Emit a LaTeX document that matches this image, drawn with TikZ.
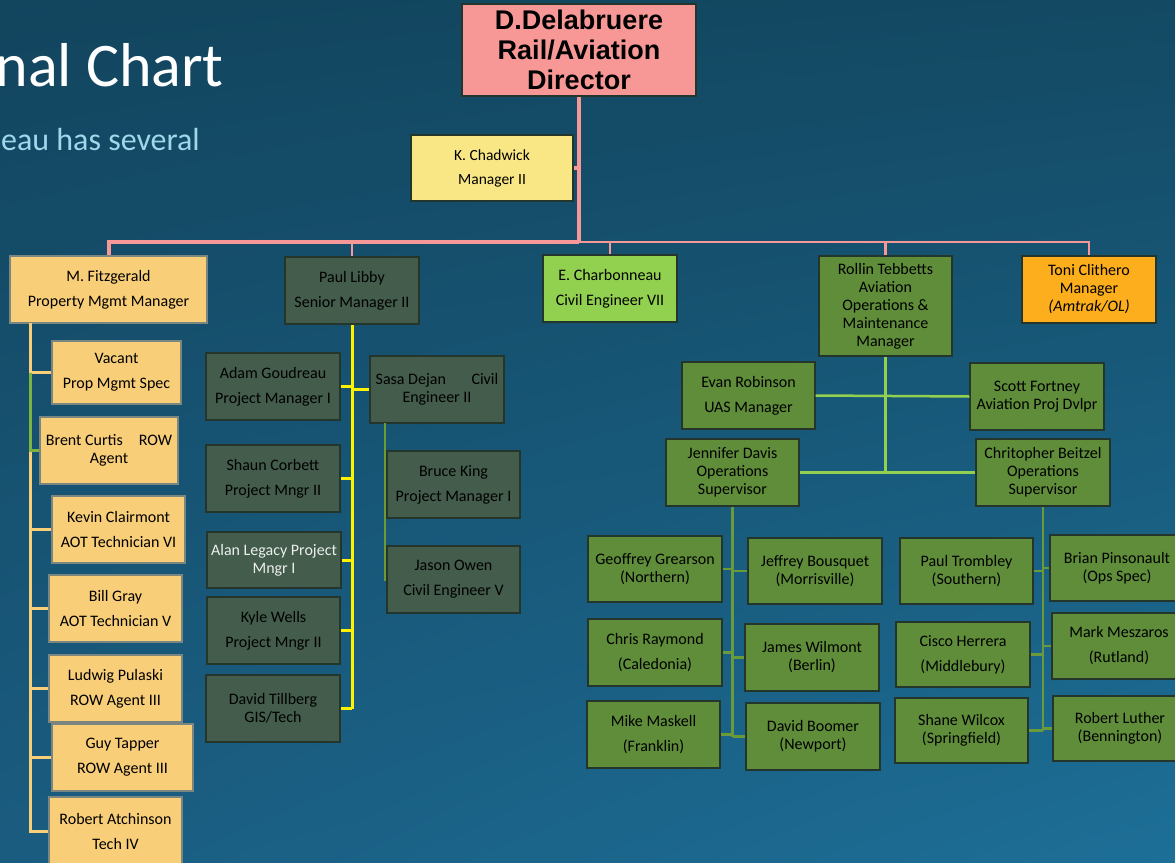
\documentclass[tikz,border=0pt]{standalone}
\usepackage{fontspec}
\setmainfont{Carlito}
\newfontfamily\headfont{Liberation Sans}
\usepackage{xcolor}
\usepackage{tikz}
\usetikzlibrary{positioning, shadings}

\definecolor{bgtop}{HTML}{12455E}
\definecolor{bgtopr}{HTML}{134963}
\definecolor{bgbotl}{HTML}{1A5C80}
\definecolor{bgbotr}{HTML}{1D6F98}
\definecolor{subtitle}{HTML}{9ED8EA}
\definecolor{boxline}{HTML}{24352B}
\definecolor{dirfill}{HTML}{F79896}
\definecolor{chadfill}{HTML}{F8E784}
\definecolor{fitzfill}{HTML}{F9CE79}
\definecolor{libbyfill}{HTML}{435C4B}
\definecolor{charbfill}{HTML}{92D050}
\definecolor{avifill}{HTML}{5F8D3A}
\definecolor{clithfill}{HTML}{FDAE1C}
\definecolor{pinkline}{HTML}{F79898}
\definecolor{fitzgreen}{HTML}{7DB441}
\definecolor{sasagreen}{HTML}{6E9A35}
\definecolor{avilight}{HTML}{92D050}
\definecolor{avidark}{HTML}{6B9A3B}

\tikzset{
  box/.style={rectangle, draw=boxline, line width=1.2pt, align=center,
    inner sep=2pt, text=black, font=\fontsize{16}{18}\selectfont},
  size/.style 2 args={minimum width=#1pt, minimum height=#2pt},
  fitz/.style={box, fill=fitzfill, draw=boxline!60},
  libby/.style={box, fill=libbyfill, text=black},
  avi/.style={box, fill=avifill},
  pinkthick/.style={draw=pinkline, line width=4pt},
  pinkthin/.style={draw=pinkline, line width=2.5pt},
  fitzbar/.style={draw=fitzfill, line width=3pt},
  fitzbit/.style={draw=fitzgreen, line width=3pt},
  libbar/.style={draw=yellow, line width=3pt},
  sasabar/.style={draw=sasagreen, line width=2.5pt},
  avibar/.style={draw=avilight, line width=2.5pt},
  subbar/.style={draw=avidark, line width=2.5pt}
}

\begin{document}
\begin{tikzpicture}[x=1pt, y=-1pt]
  \useasboundingbox (0,0) rectangle (1175,862);
  \shade[upper left=bgtop, upper right=bgtopr, lower left=bgbotl, lower right=bgbotr]
    (0,0) rectangle (1175,862);
  \clip (0,0) rectangle (1175,862);

  % slide title, cut off at the left
  \node[anchor=base east, text=white, font=\fontsize{62}{64}\selectfont, inner sep=0pt] (title) at (224,86) {nal Chart};
  \node[anchor=base east, text=subtitle, font=\fontsize{32}{34}\selectfont, inner sep=0pt] (subtitle) at (200,150) {eau has several};

  % top
  \node[box, size={234}{92}, fill=dirfill, font=\headfont\bfseries\fontsize{27}{30}\selectfont] (dir) at (579,50) {D.Delabruere\\Rail/Aviation\\Director};
  \node[box, size={162}{66}, fill=chadfill, font=\fontsize{15.5}{18}\selectfont] (chad) at (492,168) {K. Chadwick\\[6pt]Manager II};

  % second row
  \node[fitz, size={197}{67}] (fitz) at (108.5,289.5) {M. Fitzgerald\\[7pt]Property Mgmt Manager};
  \node[libby, size={134}{67}] (libby) at (352,290.5) {Paul Libby\\[7pt]Senior Manager II};
  \node[box, size={134}{67}, fill=charbfill] (charb) at (610,288.5) {E. Charbonneau\\[7pt]Civil Engineer VII};
  \node[avi, size={133}{100}] (tebb) at (885.5,306) {Rollin Tebbetts\\Aviation\\Operations \&\\Maintenance\\Manager};
  \node[box, size={134}{67}, fill=clithfill] (clith) at (1089,289.5) {Toni Clithero\\Manager\\\textit{(Amtrak/OL)}};

  \coordinate (bus) at (579,242);
  \draw[pinkthick] (dir.south) -- (bus);
  \draw[pinkthick] (chad.east) -- (chad.east -| dir.south);
  \draw[pinkthick] (bus) -| (fitz.north);
  \draw[pinkthin] (libby.north) -- (libby.north |- bus);
  \draw[pinkthin] (bus) -| (clith.north);
  \draw[pinkthin] (charb.north) -- (charb.north |- bus);
  \draw[pinkthin] (tebb.north) -- (tebb.north |- bus);

  % property management
  \node[fitz, size={129}{63}] (vacant) at (116.5,372.5) {Vacant\\[7pt]Prop Mgmt Spec};
  \node[fitz, size={138}{67}] (curtis) at (109,450.5) {Brent Curtis\hspace{1em}ROW\\Agent};
  \node[fitz, size={133}{67}] (clairmont) at (118.5,529.5) {Kevin Clairmont\\[7pt]AOT Technician VI};
  \node[fitz, size={133}{67}] (gray) at (115.5,608.5) {Bill Gray\\[7pt]AOT Technician V};
  \node[fitz, size={133}{67}] (pulaski) at (115.5,688.5) {Ludwig Pulaski\\[7pt]ROW Agent III};
  \node[fitz, size={141}{67}] (tapper) at (122.5,757.5) {Guy Tapper\\[7pt]ROW Agent III};
  \node[fitz, size={133}{68}] (atchinson) at (115.5,831) {Robert Atchinson\\[7pt]Tech IV};

  \coordinate (fitzx) at (30,323);
  \draw[fitzbar] (fitzx) |- (atchinson.west);
  \foreach \n in {vacant, clairmont, gray, pulaski, tapper}
    \draw[fitzbar] (\n.west) -- (\n.west -| fitzx);
  \draw[fitzbit] (vacant.west -| fitzx) -- (curtis.west -| fitzx) -- (curtis.west);

  % senior manager group
  \node[libby, size={134}{67}] (goudreau) at (273,386.5) {Adam Goudreau\\[7pt]Project Manager I};
  \node[libby, size={134}{67}] (corbett) at (273,478.5) {Shaun Corbett\\[7pt]Project Mngr II};
  \node[libby, size={134}{56}, text=white!90!libbyfill] (legacy) at (274,560) {Alan Legacy Project\\Mngr I};
  \node[libby, size={133}{67}] (wells) at (273.5,630.5) {Kyle Wells\\[7pt]Project Mngr II};
  \node[libby, size={134}{67}] (tillberg) at (273,708.5) {David Tillberg\\GIS/Tech};
  \node[libby, size={134}{67}] (dejan) at (437,389.5) {Sasa Dejan\hspace{1.6em}Civil\\Engineer II};
  \node[libby, size={133}{67}] (king) at (453.5,484.5) {Bruce King\\[7pt]Project Manager I};
  \node[libby, size={133}{67}] (owen) at (453.5,579.5) {Jason Owen\\[7pt]Civil Engineer V};

  \draw[libbar] (libby.south) -- (libby.south |- tillberg.east);
  \foreach \n in {goudreau, corbett, legacy, wells, tillberg}
    \draw[libbar] (\n.east) -- (\n.east -| libby.south);
  \draw[libbar] (dejan.west) -- (dejan.west -| libby.south);

  \coordinate (dejanx) at (385,423);
  \draw[sasabar] (dejanx) |- (owen.west);
  \draw[sasabar] (king.west) -- (king.west -| dejanx);

  % aviation
  \node[avi, size={133}{67}] (robinson) at (748.5,395.5) {Evan Robinson\\[7pt]UAS Manager};
  \node[avi, size={134}{67}] (fortney) at (1037,396.5) {Scott Fortney\\Aviation Proj Dvlpr};
  \node[avi, size={133}{67}] (davis) at (732.5,472.5) {Jennifer Davis\\Operations\\Supervisor};
  \node[avi, size={134}{67}] (beitzel) at (1043,472.5) {Chritopher Beitzel\\Operations\\Supervisor};

  \draw[avibar] (tebb.south) -- (tebb.south |- davis.east);
  \draw[avibar] (robinson.east) -- (fortney.west);
  \draw[avibar] (davis.east) -- (beitzel.west);

  % north region
  \node[avi, size={134}{66}] (grearson) at (655,569) {Geoffrey Grearson\\(Northern)};
  \node[avi, size={134}{67}] (raymond) at (655,652.5) {Chris Raymond\\[7pt](Caledonia)};
  \node[avi, size={133}{67}] (maskell) at (653.5,734.5) {Mike Maskell\\[7pt](Franklin)};
  \node[avi, size={134}{66}] (bousquet) at (815,571) {Jeffrey Bousquet\\(Morrisville)};
  \node[avi, size={134}{67}] (wilmont) at (812,657.5) {James Wilmont\\(Berlin)};
  \node[avi, size={134}{67}] (boomer) at (813,736.5) {David Boomer\\(Newport)};

  \draw[subbar] (davis.south) -- (davis.south |- boomer.west);
  \foreach \n in {grearson, raymond, maskell}
    \draw[subbar] (\n.east) -- (\n.east -| davis.south);
  \foreach \n in {bousquet, wilmont, boomer}
    \draw[subbar] (\n.west) -- (\n.west -| davis.south);

  % south region
  \node[avi, size={133}{66}] (trombley) at (966.5,571) {Paul Trombley\\(Southern)};
  \node[avi, size={134}{65}] (herrera) at (963,654.5) {Cisco Herrera\\[7pt](Middlebury)};
  \node[avi, size={133}{65}] (wilcox) at (961.5,730.5) {Shane Wilcox\\(Springfield)};
  \node[avi, size={134}{66}] (pinsonault) at (1117,568) {Brian Pinsonault\\(Ops Spec)};
  \node[avi, size={134}{66}] (meszaros) at (1119,646) {Mark Meszaros\\[7pt](Rutland)};
  \node[avi, size={134}{65}] (luther) at (1120,728.5) {Robert Luther\\(Bennington)};

  \draw[subbar] (beitzel.south) -- (beitzel.south |- wilcox.east);
  \foreach \n in {trombley, herrera, wilcox}
    \draw[subbar] (\n.east) -- (\n.east -| beitzel.south);
  \foreach \n in {pinsonault, meszaros, luther}
    \draw[subbar] (\n.west) -- (\n.west -| beitzel.south);
\end{tikzpicture}
\end{document}
